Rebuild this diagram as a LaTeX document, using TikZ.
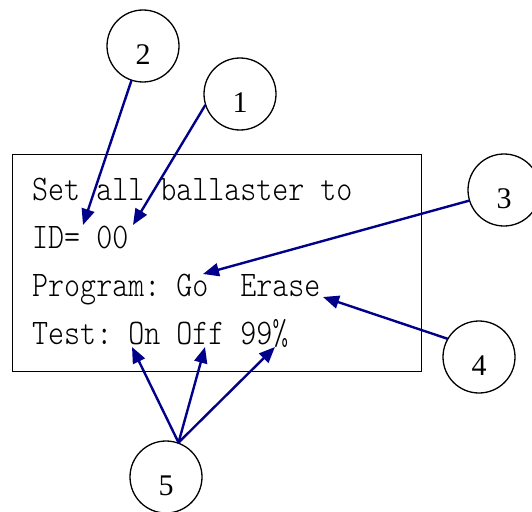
\documentclass[tikz,border=0pt]{standalone}
\usepackage{fontspec}
\newfontfamily\numfont{Liberation Serif}
\usetikzlibrary{arrows.meta}
\definecolor{callout}{RGB}{0,0,139}
\tikzset{
  lcdline/.style={anchor=base west, inner sep=0pt,
    font=\fontsize{30.5}{30.5}\ttfamily\fontseries{l}\selectfont\frenchspacing},
  bubble/.style={draw=black, circle, line width=1.3pt, minimum size=72pt, inner sep=0pt},
  bubblenum/.style={anchor=base, inner sep=0pt, font=\fontsize{30}{30}\numfont},
  pointer/.style={draw=callout, line width=2.4pt,
    -{Triangle[length=16pt,width=13pt]}, shorten <=-0.5pt}
}
\newcommand{\tall}[1]{\scalebox{1}[1.18]{#1}}
\begin{document}
\begin{tikzpicture}[x=1pt,y=-1pt]
  \useasboundingbox (0,0) rectangle (532,511);

  % display frame and its four text lines
  \node[draw=black, line width=1.3pt, minimum width=409pt, minimum height=217pt,
        inner sep=0pt, anchor=north west] (lcd) at (12,154) {};
  \node[lcdline] (l1) at (32,200) {\tall{Set all ballaster to}};
  \node[lcdline] (l2) at (32,248) {\tall{ID= 00}};
  \node[lcdline] (l3) at (32,296) {\tall{Program: Go\ \ Erase}};
  \node[lcdline] (l4) at (32,344) {\tall{Test: On Off 99\%}};

  % numbered callout bubbles
  \node[bubble] (c1) at (240,94) {};
  \node[bubble] (c2) at (143,46) {};
  \node[bubble] (c3) at (504,190) {};
  \node[bubble] (c4) at (479,357) {};
  \node[bubble] (c5) at (166,477) {};
  \node[bubblenum] at ([yshift=-18pt]c1.center) {1};
  \node[bubblenum] at ([yshift=-18pt]c2.center) {2};
  \node[bubblenum] at ([yshift=-18pt]c3.center) {3};
  \node[bubblenum] at ([yshift=-18pt]c4.center) {4};
  \node[bubblenum] at ([yshift=-18pt]c5.center) {5};

  % arrow targets on the display
  \coordinate (tid)   at (83,225);
  \coordinate (tval)  at (133,225);
  \coordinate (tgo)   at (203,274);
  \coordinate (terase) at (323,297);
  \coordinate (ton)   at (132,347);
  \coordinate (toff)  at (205,347);
  \coordinate (tpct)  at (275,347);

  % pointers
  \draw[pointer] (c2) -- (tid);
  \draw[pointer] (c1.198) -- (tval);
  \draw[pointer] (c3.197) -- (tgo);
  \draw[pointer] (c4.150) -- (terase);
  \draw[pointer] (c5.70) -- (ton);
  \draw[pointer] (c5.70) -- (toff);
  \draw[pointer] (c5.70) -- (tpct);
\end{tikzpicture}
\end{document}
